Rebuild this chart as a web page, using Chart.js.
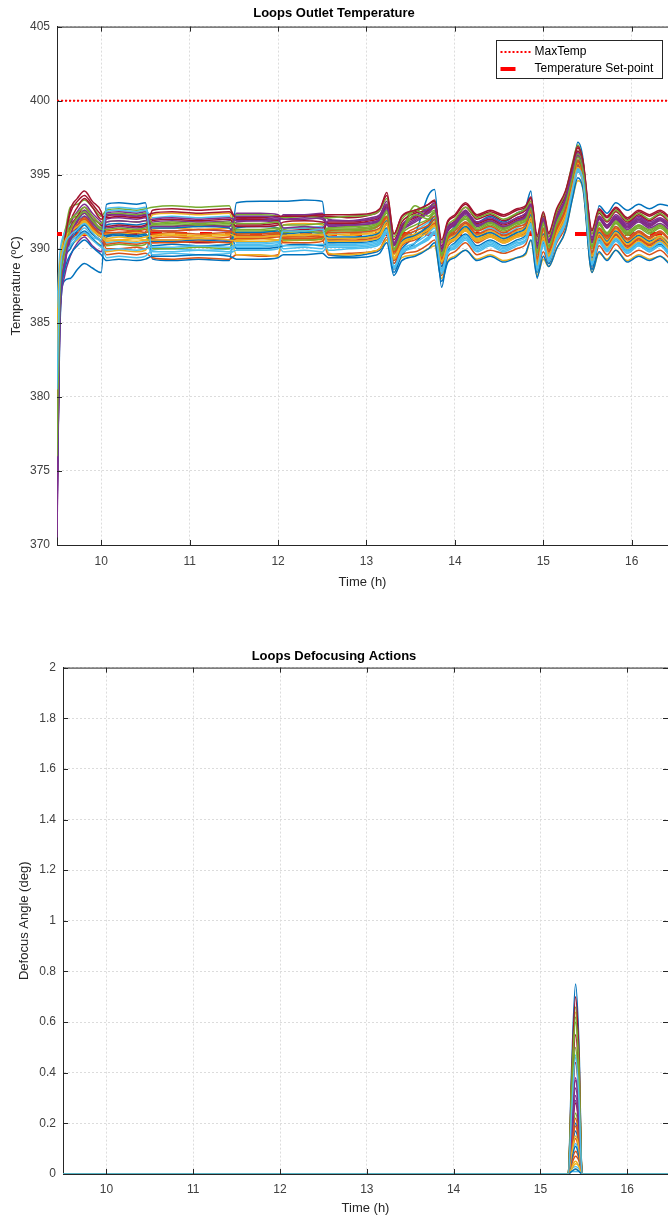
<!DOCTYPE html>
<html>
<head>
<meta charset="utf-8">
<script src="https://cdn.jsdelivr.net/npm/chart.js@4"></script>
<style>
  body { margin: 0; background: #fff; }
  canvas { display: block; }
</style>
</head>
<body>
<canvas id="tempChart" width="668" height="600"></canvas>
<canvas id="defocusChart" width="668" height="619"></canvas>
<script>
// Tijd (h) voor de temperatuurcurves
const timeH = [9.50, 9.53, 9.58, 9.65, 9.73, 9.81, 9.90, 10.00,
  10.06, 10.20, 10.40, 10.50,
  10.58, 10.80, 11.10, 11.45,
  11.53, 11.80, 12.00,
  12.06, 12.30, 12.50,
  12.57, 12.80, 13.05, 13.15,
  13.23, 13.31, 13.40, 13.55, 13.70, 13.77, 13.85, 13.92,
  14.00, 14.12, 14.25, 14.40, 14.55, 14.70, 14.80, 14.86,
  14.93, 15.00, 15.06, 15.15, 15.25, 15.33, 15.39, 15.45,
  15.55, 15.63, 15.72, 15.82, 15.95, 16.08, 16.20, 16.32, 16.42];

// Uitlaattemperatuur per loop (ºC)
const loop01 = [372, 384, 387.8, 388.0, 388.6, 389.0, 388.7, 388.4,
  393.0, 393.1, 393.0, 393.1,
  389.3, 389.2, 389.3, 389.2,
  393.1, 393.2, 393.2,
  393.2, 393.3, 393.2,
  389.6, 389.5, 389.7, 389.9,
  390.6, 389.0, 390.0, 391.0, 393.6, 394.0, 389.0, 390.8,
  391.5, 392.5, 391.8, 392.2, 391.8, 392.4, 392.8, 393.9,
  388.0, 391.0, 389.0, 391.5, 393.0, 395.0, 397.2, 396.0,
  388.8, 392.9, 392.4, 393.1, 392.6, 393.0, 392.7, 393.0, 392.9];
const loop02 = [376, 386, 389.0, 390.5, 391.0, 391.6, 391.0, 390.5,
  389.6, 389.7, 389.6, 389.7,
  389.4, 389.3, 389.4, 389.3,
  389.6, 389.5, 389.6,
  390.6, 390.7, 390.6,
  389.6, 389.7, 389.8, 390.0,
  390.8, 388.6, 389.6, 389.8, 390.3, 390.6, 388.2, 389.5,
  389.8, 390.4, 389.6, 389.9, 389.7, 390.0, 390.3, 391.2,
  388.6, 389.8, 389.0, 390.4, 391.5, 393.8, 395.2, 394.4,
  388.6, 390.2, 389.6, 390.3, 389.5, 389.9, 389.6, 389.9, 389.4];
const loop03 = [380, 387, 389.5, 390.2, 390.6, 391.0, 390.6, 390.2,
  389.8, 389.9, 389.8, 389.9,
  390.8, 390.9, 390.8, 390.9,
  389.6, 389.6, 389.5,
  391.6, 391.7, 391.6,
  389.7, 389.6, 389.8, 390.0,
  390.6, 388.8, 389.4, 389.6, 390.0, 390.2, 388.0, 389.2,
  389.5, 389.9, 389.3, 389.6, 389.2, 389.4, 389.6, 390.6,
  388.2, 389.3, 388.8, 390.0, 391.2, 393.4, 394.6, 394.0,
  388.4, 389.7, 389.3, 389.9, 389.2, 389.6, 389.3, 389.5, 389.1];
const loop04 = [371, 385, 388.5, 391.5, 392.5, 393.0, 392.4, 391.8,
  391.4, 391.5, 391.4, 391.5,
  391.8, 391.9, 391.8, 391.9,
  392.0, 392.1, 392.0,
  392.2, 392.3, 392.3,
  392.0, 391.9, 392.1, 392.3,
  393.2, 390.4, 391.6, 392.2, 392.8, 393.0, 390.0, 391.2,
  391.6, 392.4, 391.8, 392.0, 391.7, 392.1, 392.4, 393.0,
  390.4, 391.8, 390.4, 392.2, 393.4, 395.2, 396.4, 395.4,
  390.8, 392.2, 391.6, 392.3, 391.7, 392.2, 391.8, 392.1, 391.7];
const loop05 = [378, 387.5, 390.5, 392.8, 393.0, 393.3, 392.8, 392.2,
  392.6, 392.7, 392.6, 392.7,
  392.8, 392.9, 392.8, 392.9,
  391.0, 391.1, 391.0,
  391.3, 391.4, 391.3,
  391.4, 391.5, 391.6, 391.9,
  392.8, 390.0, 391.2, 392.9, 392.4, 392.6, 389.8, 390.8,
  391.2, 392.6, 391.6, 391.9, 391.5, 391.8, 392.1, 392.9,
  389.8, 392.0, 390.2, 391.8, 393.2, 395.0, 396.6, 395.6,
  390.2, 391.8, 391.0, 391.9, 391.2, 391.6, 391.3, 391.6, 391.2];
const loop06 = [383, 388.5, 390.8, 391.2, 391.6, 392.0, 391.4, 390.8,
  392.5, 392.6, 392.5, 392.6,
  392.1, 392.2, 392.1, 392.2,
  390.4, 390.4, 390.5,
  390.0, 390.1, 390.0,
  391.0, 391.1, 391.2, 391.4,
  392.2, 389.6, 390.6, 391.2, 391.8, 392.2, 389.2, 390.6,
  391.0, 391.8, 391.0, 391.4, 391.0, 391.4, 391.8, 392.6,
  389.4, 391.4, 389.8, 391.4, 392.8, 394.6, 396.0, 395.2,
  389.8, 391.4, 390.8, 391.5, 390.7, 391.2, 390.8, 391.1, 390.6];
const loop07 = [374, 386, 390.0, 392.6, 393.4, 393.9, 393.2, 392.5,
  391.0, 391.1, 391.0, 391.1,
  392.6, 392.7, 392.6, 392.7,
  392.0, 392.0, 391.9,
  392.1, 392.2, 392.2,
  392.2, 392.1, 392.3, 392.6,
  393.8, 391.0, 392.2, 392.5, 393.0, 393.2, 390.4, 391.8,
  392.2, 393.0, 392.2, 392.5, 392.2, 392.6, 392.8, 393.4,
  390.8, 392.4, 391.0, 392.6, 393.8, 395.6, 396.8, 395.8,
  391.2, 392.6, 392.1, 392.7, 392.0, 392.5, 392.2, 392.5, 392.1];
const loop08 = [377, 386.5, 389.2, 390.0, 390.8, 391.2, 390.7, 390.2,
  390.8, 390.9, 390.8, 390.9,
  390.2, 390.3, 390.2, 390.3,
  391.4, 391.5, 391.4,
  391.0, 391.1, 391.0,
  390.6, 390.7, 390.8, 391.0,
  391.8, 389.2, 390.4, 390.9, 391.6, 392.2, 388.6, 390.2,
  390.6, 391.4, 390.6, 391.0, 390.6, 391.0, 391.2, 392.2,
  388.8, 390.8, 389.4, 391.0, 392.4, 394.4, 395.8, 394.8,
  389.2, 391.0, 390.3, 391.0, 390.2, 390.7, 390.3, 390.6, 390.1];
const loop09 = [379, 387.2, 390.0, 391.0, 391.8, 392.2, 391.7, 391.2,
  391.2, 391.3, 391.2, 391.3,
  391.0, 391.1, 391.0, 391.1,
  390.8, 390.8, 390.9,
  390.8, 390.8, 390.9,
  390.4, 390.5, 390.6, 390.8,
  391.6, 389.0, 390.2, 390.6, 391.2, 391.6, 388.8, 390.2,
  390.6, 391.2, 390.4, 390.8, 390.4, 390.8, 391.0, 391.9,
  389.0, 390.6, 389.6, 391.0, 392.2, 394.2, 395.6, 394.6,
  389.4, 390.8, 390.2, 390.9, 390.1, 390.6, 390.2, 390.5, 390.0];
const loop10 = [382, 388, 390.2, 391.0, 391.4, 391.8, 391.3, 390.9,
  390.6, 390.6, 390.7, 390.6,
  391.3, 391.4, 391.3, 391.4,
  390.6, 390.7, 390.6,
  390.5, 390.6, 390.5,
  390.9, 391.0, 391.0, 391.2,
  392.0, 389.6, 390.6, 391.0, 391.4, 391.8, 389.4, 390.6,
  390.9, 391.6, 390.9, 391.2, 390.8, 391.2, 391.5, 392.4,
  389.2, 391.2, 389.8, 391.3, 392.6, 394.6, 396.0, 395.0,
  389.6, 391.2, 390.6, 391.3, 390.5, 391.0, 390.6, 390.9, 390.4];
const loop11 = [370.5, 384.5, 388.0, 389.5, 390.4, 390.8, 390.2, 389.8,
  392.0, 392.1, 392.0, 392.1,
  390.6, 390.6, 390.7, 390.6,
  392.4, 392.4, 392.3,
  392.0, 392.1, 392.0,
  391.6, 391.7, 391.8, 392.0,
  392.8, 390.2, 391.4, 392.0, 392.6, 393.0, 389.6, 391.4,
  391.8, 392.6, 391.6, 391.8, 391.4, 391.9, 392.2, 392.8,
  390.0, 391.8, 390.6, 392.0, 393.2, 394.8, 395.6, 394.8,
  390.4, 392.0, 391.4, 392.0, 391.3, 391.8, 391.4, 391.7, 391.3];
const loop12 = [385, 389, 391.0, 392.0, 392.2, 392.6, 392.0, 391.5,
  390.2, 390.3, 390.2, 390.3,
  391.6, 391.6, 391.5, 391.6,
  391.2, 391.2, 391.3,
  391.6, 391.6, 391.7,
  391.2, 391.2, 391.3, 391.6,
  392.4, 389.8, 391.0, 391.6, 392.0, 392.4, 389.6, 391.0,
  391.4, 392.0, 391.2, 391.6, 391.2, 391.6, 391.9, 392.7,
  389.6, 391.6, 390.0, 391.6, 393.0, 394.9, 396.3, 395.3,
  390.0, 391.6, 391.0, 391.7, 390.9, 391.4, 391.0, 391.4, 390.9];
const loop13 = [375, 386, 389.4, 390.4, 390.9, 391.4, 390.8, 390.4,
  389.4, 389.5, 389.4, 389.5,
  389.9, 390.0, 389.9, 390.0,
  390.1, 390.1, 390.2,
  389.8, 389.9, 389.8,
  390.2, 390.2, 390.3, 390.5,
  391.2, 388.6, 389.8, 390.2, 390.8, 391.2, 388.4, 389.8,
  390.2, 390.8, 390.0, 390.4, 390.0, 390.4, 390.6, 391.6,
  388.6, 390.4, 389.2, 390.6, 391.8, 394.0, 395.4, 394.6,
  389.0, 390.6, 389.9, 390.6, 389.8, 390.3, 389.9, 390.2, 389.7];
const loop14 = [373, 385.5, 389.6, 391.8, 392.8, 393.4, 392.8, 392.0,
  392.2, 392.3, 392.2, 392.3,
  390.4, 390.5, 390.4, 390.5,
  391.6, 391.6, 391.7,
  391.2, 391.3, 391.2,
  391.8, 391.8, 392.0, 392.2,
  393.0, 390.6, 391.8, 392.4, 392.6, 392.8, 390.2, 391.4,
  391.9, 392.8, 392.0, 392.3, 391.9, 392.3, 392.6, 393.2,
  390.6, 392.2, 390.8, 392.4, 393.6, 395.4, 396.6, 395.6,
  391.0, 392.4, 391.8, 392.5, 391.8, 392.3, 391.9, 392.3, 391.8];
const loop15 = [381, 387.5, 389.8, 390.6, 391.2, 391.6, 391.0, 390.6,
  391.6, 391.7, 391.6, 391.7,
  391.4, 391.4, 391.5, 391.4,
  390.0, 390.0, 390.1,
  390.2, 390.3, 390.2,
  390.4, 390.4, 390.5, 390.7,
  391.4, 388.4, 389.6, 390.4, 391.4, 392.0, 387.4, 389.8,
  390.4, 391.0, 390.2, 390.6, 390.2, 390.6, 390.9, 391.8,
  388.4, 390.4, 389.0, 390.8, 392.0, 394.2, 395.4, 394.6,
  388.6, 390.6, 390.0, 390.7, 389.9, 390.4, 390.0, 390.3, 389.8];
const loop16 = [378, 387, 389.8, 391.2, 392.0, 392.4, 391.8, 391.0,
  390.0, 390.0, 390.1, 390.0,
  390.7, 390.8, 390.7, 390.8,
  390.9, 390.9, 391.0,
  390.4, 390.4, 390.5,
  391.2, 391.3, 391.4, 391.6,
  392.2, 389.8, 390.8, 391.4, 391.9, 392.2, 389.4, 390.8,
  391.2, 391.8, 391.2, 391.5, 391.1, 391.5, 391.7, 392.6,
  389.4, 391.4, 389.9, 391.4, 392.7, 394.6, 396.0, 395.0,
  389.8, 391.4, 390.8, 391.5, 390.7, 391.2, 390.8, 391.2, 390.7];
const loop17 = [384, 388.8, 390.6, 391.4, 391.8, 392.0, 391.5, 391.1,
  391.0, 391.0, 391.1, 391.0,
  392.3, 392.4, 392.3, 392.4,
  390.6, 390.7, 390.6,
  390.7, 390.7, 390.8,
  391.0, 390.9, 391.1, 391.3,
  392.0, 389.4, 390.4, 391.0, 391.4, 391.8, 389.2, 390.4,
  390.8, 391.4, 390.7, 391.0, 390.6, 391.0, 391.3, 392.2,
  389.2, 391.0, 389.6, 391.2, 392.4, 394.4, 395.8, 394.8,
  389.4, 391.0, 390.4, 391.1, 390.4, 390.8, 390.4, 390.8, 390.3];
const loop18 = [372.5, 385, 388.8, 390.8, 391.8, 392.6, 392.0, 391.4,
  392.4, 392.5, 392.4, 392.5,
  391.2, 391.2, 391.3, 391.2,
  391.8, 391.9, 391.8,
  392.3, 392.3, 392.4,
  391.5, 391.6, 391.7, 391.9,
  392.6, 390.2, 391.2, 391.8, 392.4, 392.8, 389.8, 391.2,
  391.6, 392.3, 391.5, 391.8, 391.4, 391.8, 392.1, 392.8,
  390.0, 391.9, 390.4, 391.9, 393.2, 395.0, 396.2, 395.2,
  390.4, 392.0, 391.4, 392.0, 391.4, 391.9, 391.5, 391.9, 391.4];
const loop19 = [380, 387.5, 390.2, 391.6, 392.0, 392.4, 391.9, 391.4,
  391.8, 391.9, 391.8, 391.9,
  390.0, 390.0, 390.1, 390.0,
  392.3, 392.3, 392.2,
  392.1, 392.2, 392.1,
  392.1, 392.2, 392.3, 392.6,
  393.4, 390.8, 392.0, 392.6, 392.8, 393.0, 390.4, 391.6,
  392.0, 392.8, 392.1, 392.4, 392.0, 392.4, 392.7, 393.2,
  390.6, 392.4, 390.8, 392.5, 393.8, 395.8, 397.0, 395.8,
  391.0, 392.5, 391.9, 392.6, 391.9, 392.4, 392.0, 392.4, 391.9];
const loop20 = [386, 389.5, 391.0, 391.6, 392.0, 392.2, 391.6, 391.2,
  390.4, 390.5, 390.4, 390.5,
  389.6, 389.7, 389.6, 389.7,
  389.9, 389.9, 390.0,
  391.4, 391.4, 391.5,
  389.9, 390.0, 390.1, 390.3,
  391.0, 388.8, 389.8, 390.2, 390.6, 391.0, 388.6, 389.8,
  390.0, 390.6, 389.8, 390.2, 389.8, 390.2, 390.5, 391.4,
  388.8, 390.2, 389.4, 390.6, 391.8, 393.8, 395.2, 394.4,
  389.0, 390.4, 389.8, 390.5, 389.7, 390.2, 389.8, 390.2, 389.6];
const loop21 = [374.5, 385.8, 389.4, 391.4, 392.2, 392.8, 392.2, 391.6,
  391.5, 391.6, 391.5, 391.6,
  391.9, 392.0, 391.9, 392.0,
  391.5, 391.5, 391.6,
  391.8, 391.9, 391.8,
  391.7, 391.7, 391.9, 392.1,
  392.9, 390.3, 391.5, 392.1, 392.5, 392.8, 390.0, 391.3,
  391.7, 392.5, 391.7, 392.0, 391.6, 392.0, 392.3, 393.0,
  390.2, 392.0, 390.5, 392.0, 393.3, 395.2, 396.4, 395.4,
  390.6, 392.1, 391.5, 392.1, 391.5, 392.0, 391.6, 392.0, 391.5];
const loop22 = [379.5, 387.2, 389.9, 390.8, 391.4, 391.9, 391.3, 390.8,
  390.9, 391.0, 390.9, 391.0,
  390.5, 390.5, 390.6, 390.5,
  391.1, 391.1, 391.2,
  390.9, 390.9, 391.0,
  390.8, 390.8, 390.9, 391.1,
  391.9, 389.3, 390.5, 390.9, 391.5, 392.0, 388.8, 390.4,
  390.8, 391.5, 390.8, 391.1, 390.7, 391.1, 391.4, 392.3,
  389.0, 391.0, 389.6, 391.1, 392.5, 394.5, 395.9, 394.9,
  389.4, 391.1, 390.5, 391.2, 390.4, 390.9, 390.5, 390.8, 390.3];
const loop23 = [377.5, 386.8, 389.6, 390.8, 391.5, 392.0, 391.4, 390.8,
  390.3, 390.4, 390.3, 390.4,
  390.4, 390.4, 390.5, 390.4,
  390.7, 390.7, 390.8,
  390.8, 390.9, 390.8,
  390.6, 390.6, 390.7, 390.9,
  391.7, 389.2, 390.3, 390.8, 391.3, 391.7, 389.0, 390.3,
  390.7, 391.3, 390.5, 390.9, 390.5, 390.9, 391.1, 392.0,
  389.1, 390.8, 389.6, 391.0, 392.3, 394.3, 395.7, 394.7,
  389.5, 390.9, 390.3, 391.0, 390.2, 390.7, 390.3, 390.7, 390.2];
const loop24 = [383.5, 388.6, 390.5, 391.2, 391.6, 391.9, 391.3, 390.9,
  390.7, 390.8, 390.7, 390.8,
  390.9, 391.0, 390.9, 391.0,
  390.8, 390.8, 390.9,
  390.9, 391.0, 390.9,
  390.7, 390.7, 390.8, 391.0,
  391.8, 389.4, 390.4, 390.8, 391.3, 391.6, 389.2, 390.4,
  390.7, 391.3, 390.6, 390.9, 390.5, 390.9, 391.2, 392.1,
  389.0, 390.9, 389.6, 391.1, 392.4, 394.4, 395.8, 394.8,
  389.5, 391.0, 390.4, 391.1, 390.3, 390.8, 390.4, 390.8, 390.2];
const loop25 = [371.5, 384.8, 388.6, 390.6, 391.5, 392.2, 391.6, 391.0,
  391.8, 391.9, 391.8, 391.9,
  392.0, 392.1, 392.0, 392.1,
  391.9, 391.9, 392.0,
  391.4, 391.5, 391.4,
  391.9, 391.9, 392.0, 392.2,
  393.0, 390.4, 391.6, 392.2, 392.7, 393.1, 390.1, 391.5,
  391.8, 392.5, 391.8, 392.1, 391.7, 392.1, 392.4, 393.0,
  390.3, 392.1, 390.6, 392.1, 393.4, 395.3, 396.5, 395.5,
  390.7, 392.2, 391.6, 392.2, 391.6, 392.1, 391.7, 392.0, 391.6];
const loop26 = [381.5, 387.8, 390.4, 391.9, 392.4, 392.8, 392.2, 391.7,
  392.3, 392.4, 392.3, 392.4,
  391.7, 391.8, 391.7, 391.8,
  391.3, 391.3, 391.4,
  390.6, 390.6, 390.7,
  391.4, 391.4, 391.5, 391.8,
  392.6, 390.0, 391.2, 392.6, 392.2, 392.5, 389.7, 391.0,
  391.4, 392.2, 391.4, 391.8, 391.4, 391.8, 392.0, 392.8,
  389.8, 391.8, 390.2, 391.8, 393.1, 394.9, 396.4, 395.4,
  390.2, 391.7, 391.1, 391.8, 391.1, 391.6, 391.2, 391.6, 391.1];
const loop27 = [376.5, 386.3, 389.3, 390.2, 390.7, 391.1, 390.6, 390.1,
  389.9, 390.0, 389.9, 390.0,
  390.1, 390.1, 390.2, 390.1,
  390.3, 390.3, 390.4,
  390.2, 390.2, 390.3,
  390.1, 390.1, 390.2, 390.4,
  391.1, 388.7, 389.7, 390.1, 390.7, 391.1, 388.3, 389.7,
  390.1, 390.7, 389.9, 390.3, 389.9, 390.3, 390.6, 391.5,
  388.5, 390.3, 389.1, 390.5, 391.7, 393.9, 395.3, 394.5,
  388.9, 390.5, 389.9, 390.5, 389.7, 390.2, 389.8, 390.2, 389.6];
const loop28 = [375.5, 386.2, 390.2, 392.4, 393.2, 393.6, 393.0, 392.3,
  392.1, 392.2, 392.1, 392.2,
  392.4, 392.5, 392.4, 392.5,
  392.1, 392.1, 392.2,
  392.2, 392.2, 392.3,
  392.3, 392.3, 392.4, 392.7,
  393.6, 391.0, 392.2, 392.6, 393.0, 393.3, 390.6, 391.9,
  392.3, 393.1, 392.3, 392.6, 392.3, 392.7, 392.9, 393.5,
  390.9, 392.5, 391.1, 392.7, 393.9, 395.7, 396.9, 395.9,
  391.3, 392.7, 392.2, 392.8, 392.1, 392.6, 392.3, 392.6, 392.2];
const loop29 = [373.5, 385.2, 388.4, 389.6, 390.2, 390.6, 390.1, 389.6,
  389.2, 389.3, 389.2, 389.3,
  389.5, 389.5, 389.6, 389.5,
  389.3, 389.3, 389.4,
  389.6, 389.6, 389.7,
  389.4, 389.4, 389.5, 389.7,
  390.4, 388.2, 389.2, 389.5, 390.0, 390.4, 387.8, 389.1,
  389.4, 389.9, 389.2, 389.5, 389.1, 389.4, 389.7, 390.6,
  388.1, 389.5, 388.8, 390.0, 391.2, 393.4, 394.8, 394.0,
  388.4, 389.8, 389.2, 389.9, 389.1, 389.5, 389.2, 389.5, 389.0];
const loop30 = [378.5, 387.0, 389.7, 390.9, 391.6, 392.1, 391.5, 391.0,
  391.1, 391.1, 391.2, 391.1,
  391.2, 391.2, 391.3, 391.2,
  391.0, 391.0, 391.1,
  390.7, 390.7, 390.8,
  391.1, 391.1, 391.2, 391.4,
  392.1, 389.7, 390.7, 391.2, 391.6, 392.0, 389.3, 390.7,
  391.0, 391.7, 391.0, 391.3, 390.9, 391.3, 391.6, 392.5,
  389.3, 391.3, 389.8, 391.3, 392.6, 394.6, 395.9, 394.9,
  389.7, 391.3, 390.7, 391.4, 390.6, 391.1, 390.7, 391.1, 390.6];
const loop31 = [382.5, 388.2, 390.3, 391.1, 391.5, 391.8, 391.2, 390.8,
  390.5, 390.6, 390.5, 390.6,
  390.6, 390.6, 390.7, 390.6,
  390.5, 390.5, 390.6,
  390.9, 390.9, 391.0,
  390.5, 390.5, 390.6, 390.8,
  391.6, 389.3, 390.3, 390.7, 391.1, 391.5, 389.1, 390.3,
  390.6, 391.2, 390.5, 390.8, 390.4, 390.8, 391.0, 391.9,
  388.9, 390.7, 389.5, 390.9, 392.1, 394.1, 395.5, 394.5,
  389.2, 390.7, 390.1, 390.8, 390.0, 390.5, 390.1, 390.5, 390.0];
const loop32 = [372, 385.3, 388.9, 390.9, 391.9, 392.4, 391.8, 391.2,
  392.3, 392.3, 392.2, 392.3,
  391.5, 391.5, 391.6, 391.5,
  392.2, 392.2, 392.1,
  392.0, 392.0, 392.1,
  391.6, 391.6, 391.7, 392.0,
  392.7, 390.3, 391.3, 391.9, 392.5, 392.9, 389.9, 391.3,
  391.7, 392.4, 391.6, 391.9, 391.5, 391.9, 392.2, 392.9,
  390.1, 392.0, 390.5, 392.0, 393.3, 395.1, 396.3, 395.3,
  390.5, 392.1, 391.5, 392.1, 391.5, 392.0, 391.6, 392.0, 391.5];
const loop33 = [376, 386.4, 389.6, 391.3, 392.1, 392.5, 391.9, 391.3,
  391.3, 391.4, 391.3, 391.4,
  391.6, 391.7, 391.6, 391.7,
  391.7, 391.7, 391.8,
  391.1, 391.2, 391.1,
  391.3, 391.3, 391.4, 391.7,
  392.5, 389.9, 391.1, 392.3, 392.0, 392.4, 389.5, 390.9,
  391.3, 392.1, 391.3, 391.7, 391.3, 391.7, 391.9, 392.7,
  389.7, 391.7, 390.1, 391.7, 393.0, 394.8, 396.2, 395.2,
  390.1, 391.6, 391.0, 391.7, 391.0, 391.5, 391.1, 391.5, 391.0];
const loop34 = [380.5, 387.6, 390.1, 390.9, 391.3, 391.7, 391.1, 390.6,
  392.7, 392.8, 392.7, 392.8,
  389.8, 389.8, 389.9, 389.8,
  390.2, 390.2, 390.3,
  391.2, 391.2, 391.3,
  390.3, 390.3, 390.4, 390.6,
  391.3, 388.8, 389.9, 390.4, 391.0, 391.4, 388.5, 390.0,
  390.3, 390.9, 390.1, 390.5, 390.1, 390.5, 390.8, 391.7,
  388.7, 390.5, 389.3, 390.7, 391.9, 394.0, 395.4, 394.6,
  389.1, 390.7, 390.0, 390.7, 389.9, 390.4, 390.0, 390.4, 389.8];

const maxTemp = 400;
const setPoint = 391;

// Defocus hoek (deg) per loop
const defocusTime = [9.5, 15.32, 15.36, 15.405, 15.445, 15.48, 16.47];
const defocus01 = [0, 0, 0.42, 0.75, 0.50, 0, 0];
const defocus02 = [0, 0, 0.08, 0.14, 0.09, 0, 0];
const defocus03 = [0, 0, 0.35, 0.64, 0.42, 0, 0];
const defocus04 = [0, 0, 0.20, 0.37, 0.24, 0, 0];
const defocus05 = [0, 0, 0.36, 0.66, 0.44, 0, 0];
const defocus06 = [0, 0, 0.26, 0.47, 0.30, 0, 0];
const defocus07 = [0, 0, 0.38, 0.70, 0.46, 0, 0];
const defocus08 = [0, 0, 0.11, 0.20, 0.13, 0, 0];
const defocus09 = [0, 0, 0.05, 0.09, 0.06, 0, 0];
const defocus10 = [0, 0, 0.03, 0.05, 0.03, 0, 0];
const defocus11 = [0, 0, 0.19, 0.34, 0.22, 0, 0];
const defocus12 = [0, 0, 0.13, 0.24, 0.16, 0, 0];
const defocus13 = [0, 0, 0.07, 0.12, 0.08, 0, 0];
const defocus14 = [0, 0, 0.15, 0.28, 0.18, 0, 0];
const defocus15 = [0, 0, 0.09, 0.17, 0.11, 0, 0];
const defocus16 = [0, 0, 0.04, 0.07, 0.05, 0, 0];
const defocus17 = [0, 0, 0.01, 0.02, 0.01, 0, 0];
const defocus18 = [0, 0, 0.21, 0.38, 0.25, 0, 0];
const defocus19 = [0, 0, 0.34, 0.62, 0.40, 0, 0];
const defocus20 = [0, 0, 0.02, 0.03, 0.02, 0, 0];
const defocus21 = [0, 0, 0.30, 0.55, 0.36, 0, 0];
const defocus22 = [0, 0, 0.06, 0.11, 0.07, 0, 0];
const defocus23 = [0, 0, 0.10, 0.19, 0.12, 0, 0];
const defocus24 = [0, 0, 0.02, 0.04, 0.03, 0, 0];
const defocus25 = [0, 0, 0.17, 0.31, 0.20, 0, 0];
const defocus26 = [0, 0, 0.33, 0.60, 0.39, 0, 0];
const defocus27 = [0, 0, 0.01, 0.01, 0.01, 0, 0];
const defocus28 = [0, 0, 0.24, 0.44, 0.29, 0, 0];
const defocus29 = [0, 0, 0.01, 0.02, 0.01, 0, 0];
const defocus30 = [0, 0, 0.12, 0.22, 0.14, 0, 0];
const defocus31 = [0, 0, 0.08, 0.15, 0.10, 0, 0];
const defocus32 = [0, 0, 0.16, 0.29, 0.19, 0, 0];
const defocus33 = [0, 0, 0.27, 0.50, 0.32, 0, 0];
const defocus34 = [0, 0, 0.25, 0.46, 0.29, 0, 0];

const tempLoops = [loop01, loop02, loop03, loop04, loop05, loop06, loop07, loop08,
  loop09, loop10, loop11, loop12, loop13, loop14, loop15, loop16,
  loop17, loop18, loop19, loop20, loop21, loop22, loop23, loop24,
  loop25, loop26, loop27, loop28, loop29, loop30, loop31, loop32, loop33, loop34];
const defocusLoops = [defocus01, defocus02, defocus03, defocus04, defocus05, defocus06, defocus07, defocus08,
  defocus09, defocus10, defocus11, defocus12, defocus13, defocus14, defocus15, defocus16,
  defocus17, defocus18, defocus19, defocus20, defocus21, defocus22, defocus23, defocus24,
  defocus25, defocus26, defocus27, defocus28, defocus29, defocus30, defocus31, defocus32,
  defocus33, defocus34];

// MATLAB kleuren
const lineColors = ['#0072BD', '#D95319', '#EDB120', '#7E2F8E', '#77AC30', '#4DBEEE', '#A2142F'];

Chart.defaults.font.family = '"Liberation Sans", Arial, sans-serif';
Chart.defaults.color = '#262626';

const toPoints = (xs, ys) => xs.map((x, i) => ({ x: x, y: ys[i] }));
const onlyWhole = (scale) => { scale.ticks = scale.ticks.filter(t => Number.isInteger(t.value)); };

// Ticks naar binnen + bovenrand (zoals MATLAB box)
const boxTicks = {
  id: 'boxTicks',
  afterDatasetsDraw(chart, args, opts) {
    const { ctx, chartArea: a, scales: { x, y } } = chart;
    ctx.save();
    ctx.strokeStyle = '#262626';
    ctx.lineWidth = 1;
    ctx.beginPath();
    ctx.moveTo(a.left, a.top + 0.5);
    ctx.lineTo(a.right, a.top + 0.5);
    x.ticks.forEach(t => {
      const px = Math.round(x.getPixelForValue(t.value)) + 0.5;
      ctx.moveTo(px, a.bottom); ctx.lineTo(px, a.bottom - 5);
      ctx.moveTo(px, a.top); ctx.lineTo(px, a.top + 5);
    });
    y.ticks.forEach(t => {
      const py = Math.round(y.getPixelForValue(t.value)) + 0.5;
      ctx.moveTo(a.left, py); ctx.lineTo(a.left + 5, py);
      if (opts.right) { ctx.moveTo(a.right, py); ctx.lineTo(a.right - 5, py); }
    });
    ctx.stroke();
    ctx.restore();
  }
};

// Legenda met kader
const legendBox = {
  id: 'legendBox',
  afterDraw(chart) {
    const { ctx, chartArea } = chart;
    const items = chart.data.datasets.filter(d => d.inLegend);
    if (!items.length) return;
    const w = 166, h = 38;
    const bx = Math.round(chartArea.right - 6 - w) + 0.5;
    const by = Math.round(chartArea.top + 13) + 0.5;
    ctx.save();
    ctx.fillStyle = '#fff';
    ctx.fillRect(bx, by, w, h);
    ctx.strokeStyle = '#262626';
    ctx.lineWidth = 1;
    ctx.strokeRect(bx, by, w, h);
    ctx.font = '12px "Liberation Sans", Arial, sans-serif';
    ctx.textBaseline = 'middle';
    items.forEach((d, i) => {
      const ly = by + 11.5 + i * 17;
      ctx.strokeStyle = d.borderColor;
      ctx.lineWidth = d.borderWidth;
      ctx.setLineDash(d.legendDash);
      ctx.beginPath();
      ctx.moveTo(bx + 4, ly);
      ctx.lineTo(bx + 4 + d.sampleLength, ly);
      ctx.stroke();
      ctx.setLineDash([]);
      ctx.fillStyle = '#000';
      ctx.fillText(d.label, bx + 38, ly);
    });
    ctx.restore();
  }
};

const gridStyle = { color: '#dcdcdc', lineWidth: 1, drawTicks: false };
const borderStyle = { color: '#262626', width: 1, dash: [2, 2] };

// Bovenste grafiek
const tempChart = document.querySelector('#tempChart');
const tempXMax = 16.41;

const tempDatasets = [
  {
    label: 'MaxTemp',
    data: toPoints([9.5, tempXMax], [maxTemp, maxTemp]),
    borderColor: '#FF0000',
    borderWidth: 2,
    borderDash: [2, 2],
    inLegend: true,
    legendDash: [2, 2],
    sampleLength: 30,
    order: -100
  },
  {
    label: 'Temperature Set-point',
    data: toPoints([9.5, tempXMax], [setPoint, setPoint]),
    borderColor: '#FF0000',
    borderWidth: 4,
    borderDash: [12, 13],
    borderDashOffset: 7,
    inLegend: true,
    legendDash: [],
    sampleLength: 15,
    order: 100
  }
];
tempLoops.forEach((vals, i) => {
  tempDatasets.push({
    label: 'Loop ' + (i + 1),
    data: toPoints(timeH, vals),
    borderColor: lineColors[i % lineColors.length],
    borderWidth: 1.5,
    cubicInterpolationMode: 'monotone',
    order: -i
  });
});

new Chart(tempChart, {
  type: 'line',
  data: { datasets: tempDatasets },
  options: {
    responsive: false,
    animation: false,
    devicePixelRatio: 1,
    layout: { padding: 0 },
    elements: { point: { radius: 0 } },
    plugins: {
      legend: { display: false },
      tooltip: { enabled: false },
      title: {
        display: true,
        text: 'Loops Outlet Temperature',
        color: '#000',
        font: { size: 13, weight: 'bold' },
        padding: { top: 6, bottom: 5 }
      },
      boxTicks: { right: false }
    },
    scales: {
      x: {
        type: 'linear',
        min: 9.5,
        max: tempXMax,
        afterBuildTicks: onlyWhole,
        afterFit: (s) => { s.height = 55; },
        ticks: { stepSize: 1, includeBounds: false, padding: 9, font: { size: 12 }, color: '#404040' },
        grid: gridStyle,
        border: borderStyle,
        title: { display: true, text: 'Time (h)', font: { size: 13 }, color: '#262626', padding: { top: 0, bottom: 10 } }
      },
      y: {
        min: 370,
        max: 405,
        afterFit: (s) => { s.width = 57; },
        ticks: { stepSize: 5, padding: 7, font: { size: 12 }, color: '#404040' },
        grid: gridStyle,
        border: borderStyle,
        title: { display: true, text: 'Temperature (ºC)', font: { size: 13 }, color: '#262626', padding: { top: 9, bottom: 0 } }
      }
    }
  },
  plugins: [boxTicks, legendBox]
});

// Onderste grafiek
const defocusChart = document.querySelector('#defocusChart');

const defocusDatasets = defocusLoops.map((vals, i) => ({
  label: 'Loop ' + (i + 1),
  data: toPoints(defocusTime, vals),
  borderColor: lineColors[i % lineColors.length],
  borderWidth: 1.5,
  cubicInterpolationMode: 'monotone',
  order: -i
}));

new Chart(defocusChart, {
  type: 'line',
  data: { datasets: defocusDatasets },
  options: {
    responsive: false,
    animation: false,
    devicePixelRatio: 1,
    layout: { padding: 0 },
    elements: { point: { radius: 0 } },
    plugins: {
      legend: { display: false },
      tooltip: { enabled: false },
      title: {
        display: true,
        text: 'Loops Defocusing Actions',
        color: '#000',
        font: { size: 13, weight: 'bold' },
        padding: { top: 49, bottom: 3 }
      },
      boxTicks: { right: true }
    },
    scales: {
      x: {
        type: 'linear',
        min: 9.5,
        max: 16.47,
        afterBuildTicks: onlyWhole,
        afterFit: (s) => { s.height = 45; },
        ticks: { stepSize: 1, includeBounds: false, padding: 8, font: { size: 12 }, color: '#404040' },
        grid: gridStyle,
        border: borderStyle,
        title: { display: true, text: 'Time (h)', font: { size: 13 }, color: '#262626', padding: { top: 0, bottom: 3 } }
      },
      y: {
        min: 0,
        max: 2,
        afterFit: (s) => { s.width = 63; },
        ticks: {
          stepSize: 0.2,
          padding: 7,
          font: { size: 12 },
          color: '#404040',
          callback: (v) => String(Math.round(v * 10) / 10)
        },
        grid: gridStyle,
        border: borderStyle,
        title: { display: true, text: 'Defocus Angle (deg)', font: { size: 13 }, color: '#262626', padding: { top: 17, bottom: 0 } }
      }
    }
  },
  plugins: [boxTicks]
});
</script>
</body>
</html>
